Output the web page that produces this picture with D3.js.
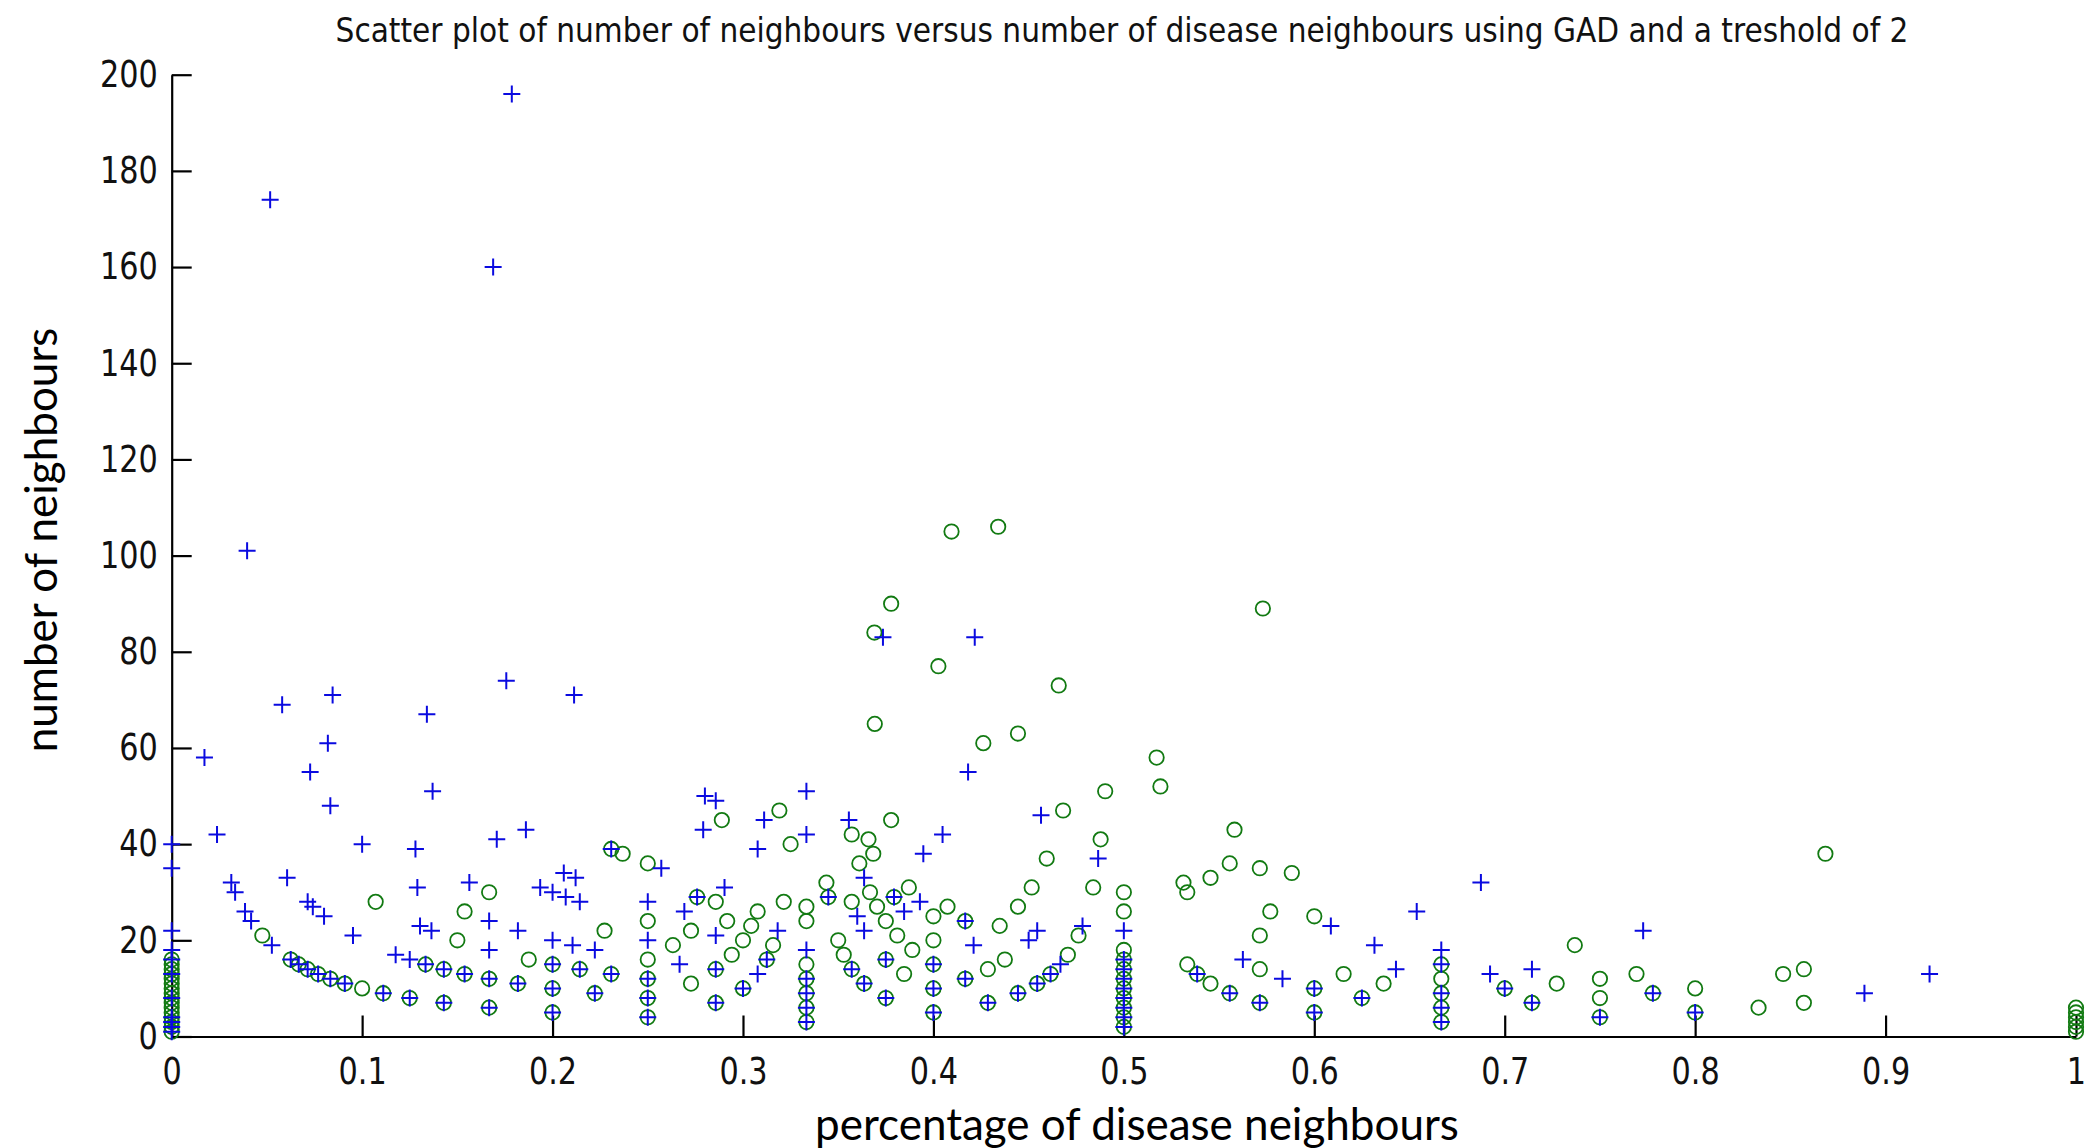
<!DOCTYPE html>
<html><head><meta charset="utf-8">
<script src="https://cdn.jsdelivr.net/npm/d3@7"></script>
<style>
html,body{margin:0;padding:0;background:#fff;}
svg{display:block;}
</style></head>
<body><svg id="chart" width="2091" height="1148"></svg>
<script>
const titleText = "Scatter plot of number of neighbours versus number of disease neighbours using GAD and a treshold of 2";
const xLabel = "percentage of disease neighbours";
const yLabel = "number of neighbours";
const xTicks = [0, 0.1, 0.2, 0.3, 0.4, 0.5, 0.6, 0.7, 0.8, 0.9, 1];
const xTickLabels = ["0", "0.1", "0.2", "0.3", "0.4", "0.5", "0.6", "0.7", "0.8", "0.9", "1"];
const yTicks = [0, 20, 40, 60, 80, 100, 120, 140, 160, 180, 200];
const yTickLabels = ["0", "20", "40", "60", "80", "100", "120", "140", "160", "180", "200"];

// [percentage of disease neighbours, number of neighbours]
const plusOnly = [
  [0.1786,196],[0.0517,174],[0.1688,160],[0.0396,101],[0.3735,83],[0.4217,83],[0.1757,74],[0.2113,71],[0.0845,71],[0.058,69],[0.134,67],
  [0.0172,58],[0.082,61],[0.0727,55],[0.137,51],[0.0833,48],[0.0238,42],[0.1,40],[0.128,39],[0.1707,41],[0.186,43],
  [0,40],[0,35],[0,22],[0,18],
  [0.0606,33],[0.0313,32],[0.0333,30],[0.0385,26],[0.0417,24],[0.0714,28],[0.0741,27],[0.08,25],[0.0526,19],[0.0952,21],[0.1176,17],[0.125,16],[0.129,31],[0.1304,23],[0.1364,22],[0.1563,32],[0.1667,24],[0.1667,18],[0.1818,22],[0.1935,31],[0.2,30],[0.2059,34],[0.2121,33],[0.2069,29],[0.2143,28],[0.2,20],[0.2105,19],[0.2222,18],
  [0.2571,35],[0.25,28],[0.25,20],[0.28,50],[0.2857,49],[0.2791,43],[0.2903,31],[0.2692,26],[0.2857,21],[0.2667,15],[0.3111,45],[0.3077,39],[0.3333,51],[0.3333,42],[0.3333,18],[0.3182,22],[0.3077,13],[0.3556,45],[0.3636,33],[0.36,25],[0.3636,22],[0.3846,26],[0.3929,28],[0.3947,38],[0.4048,42],[0.4182,55],[0.4211,19],
  [0.4565,46],[0.4865,37],[0.4545,22],[0.45,20],[0.5,22],[0.5625,16],[0.5833,12],[0.6087,23],[0.4783,23],[0.4667,15],
  [0.6316,19],[0.6429,14],[0.6538,26],[0.6667,18],[0.6875,32],[0.6923,13],[0.7143,14],[0.7727,22],
  [0.8889,9],[0.9231,13]
];
const shared = [
  [0,16],[0,13],[0,8],[0,4],[0,3],[0,2],[0,1],
  [0.0625,16],[0.0667,15],[0.0714,14],[0.0769,13],[0.0833,12],[0.0909,11],[0.1111,9],[0.125,8],[0.1429,7],[0.1667,6],[0.2,5],[0.1333,15],[0.1429,14],[0.1538,13],[0.1667,12],[0.1818,11],[0.2,10],[0.2,15],
  [0.2308,39],[0.2759,29],[0.3448,29],[0.3793,29],[0.4167,24],[0.4167,12],[0.2143,14],[0.2308,13],[0.2222,9],[0.25,12],[0.25,8],[0.25,4],[0.2857,14],[0.2857,7],[0.3,10],[0.3125,16],[0.3571,14],[0.3636,11],[0.375,16],[0.375,8],[0.4,15],[0.4,10],[0.4,5],[0.3333,12],[0.3333,9],[0.3333,6],[0.3333,3],
  [0.4286,7],[0.4444,9],[0.4545,11],[0.4615,13],[0.5385,13],[0.5556,9],[0.5714,7],[0.6,10],[0.6,5],[0.625,8],[0.5,2],[0.5,4],[0.5,6],[0.5,8],[0.5,10],[0.5,12],[0.5,14],[0.5,16],
  [0.6667,15],[0.6667,9],[0.6667,6],[0.6667,3],[0.7,10],[0.7143,7],[0.75,4],[0.7778,9],[0.8,5]
];
const circleOnly = [
  [0.4095,105],[0.434,106],[0.3778,90],[0.573,89],[0.369,84],[0.4026,77],[0.4658,73],[0.3692,65],
  [0.1667,30],[0.1071,28],[0.1538,26],[0.15,20],[0.0476,21],[0.1875,16],[0.1,10],
  [0,5],[0,6],[0,7],[0,9],[0,10],[0,11],[0,12],[0,14],[0,15],
  [0.2889,45],[0.3191,47],[0.325,40],[0.3778,45],[0.3571,42],[0.3659,41],[0.3684,38],[0.3611,36],[0.2368,38],[0.25,36],[0.3438,32],[0.3667,30],[0.3871,31],[0.2857,28],[0.3214,28],[0.3077,26],[0.3333,27],[0.3333,24],[0.3571,28],[0.3704,27],[0.375,24],[0.381,21],[0.3889,18],[0.4,25],[0.4074,27],[0.4,20],[0.3846,13],[0.25,24],[0.25,16],[0.2273,22],[0.2632,19],[0.2727,22],[0.2917,24],[0.3043,23],[0.3,20],[0.2941,17],[0.3158,19],[0.35,20],[0.3529,17],[0.2727,11],[0.3333,15],
  [0.4262,61],[0.4444,63],[0.5172,58],[0.5192,52],[0.4902,51],[0.4681,47],[0.4878,41],[0.4595,37],[0.4516,31],[0.4444,27],[0.4348,23],[0.4375,16],[0.4286,14],[0.4839,31],[0.4762,21],[0.4706,17],[0.5,30],[0.5,26],[0.5,18],[0.5313,32],[0.5333,30],[0.5455,33],[0.5556,36],[0.5581,43],[0.5714,35],[0.5882,34],[0.5769,26],[0.5714,21],[0.5714,14],[0.5333,15],[0.5455,11],[0.6,25],[0.6154,13],
  [0.6364,11],[0.6667,12],[0.7273,11],[0.7368,19],[0.75,12],[0.75,8],[0.7692,13],[0.8,10],[0.8333,6],
  [0.8684,38],[0.8462,13],[0.8571,14],[0.8571,7],
  [1,1],[1,2],[1,3],[1,4],[1,5],[1,6]
];
const plusSeries = plusOnly.concat(shared);
const circleSeries = circleOnly.concat(shared);

const svg = d3.select("#chart");
const x = d3.scaleLinear().domain([0, 1]).range([171.7, 2076]);
const y = d3.scaleLinear().domain([0, 200]).range([1036.5, 74.7]);

const tickFont = "'Liberation Sans Narrow', 'DejaVu Sans Condensed', 'Liberation Sans', sans-serif";
const labelFont = "Lato, 'Open Sans', sans-serif";
const squeeze = 0.91;

// axes
const gx = svg.append("g").attr("transform", `translate(0,${y(0)})`)
  .call(d3.axisBottom(x).tickValues(xTicks).tickFormat((d, i) => xTickLabels[i])
    .tickSize(-21).tickSizeOuter(0).tickPadding(21));
const gy = svg.append("g").attr("transform", `translate(${x(0)},0)`)
  .call(d3.axisLeft(y).tickValues(yTicks).tickFormat((d, i) => yTickLabels[i])
    .tickSize(-20).tickSizeOuter(0).tickPadding(14));
[gx, gy].forEach(g => {
  g.select(".domain").attr("stroke", "#000").attr("stroke-width", 2.2);
  g.selectAll(".tick line").attr("stroke", "#000").attr("stroke-width", 2.2);
  g.selectAll(".tick text").attr("fill", "#111").style("font-family", tickFont).style("font-size", "37px")
    .attr("transform", `scale(${squeeze},1)`);
});
gy.selectAll(".tick text").attr("x", -14 / squeeze);

// circles (drawn first)
svg.append("g").selectAll("circle").data(circleSeries).join("circle")
  .attr("cx", d => x(d[0])).attr("cy", d => y(d[1])).attr("r", 7.2)
  .attr("fill", "none").attr("stroke", "#127a12").attr("stroke-width", 1.8);

// plus markers
svg.append("g").selectAll("path").data(plusSeries).join("path")
  .attr("transform", d => `translate(${x(d[0])},${y(d[1])})`)
  .attr("d", "M-8.5,0H8.5M0,-8.5V8.5")
  .attr("stroke", "#0a0ae0").attr("stroke-width", 2).attr("fill", "none");

// title
svg.append("text").attr("transform", "translate(1122,42) scale(0.97,1)").attr("text-anchor", "middle")
  .style("font-family", tickFont).style("font-size", "34px").attr("fill", "#111")
  .text(titleText);

// axis labels
svg.append("text").attr("x", 1137).attr("y", 1140).attr("text-anchor", "middle")
  .style("font-family", labelFont).style("font-size", "44px").attr("fill", "#000")
  .text(xLabel);
svg.append("text").attr("transform", "translate(57,540) rotate(-90)").attr("text-anchor", "middle")
  .style("font-family", labelFont).style("font-size", "44px").attr("fill", "#000")
  .text(yLabel);
</script>
</body></html>
